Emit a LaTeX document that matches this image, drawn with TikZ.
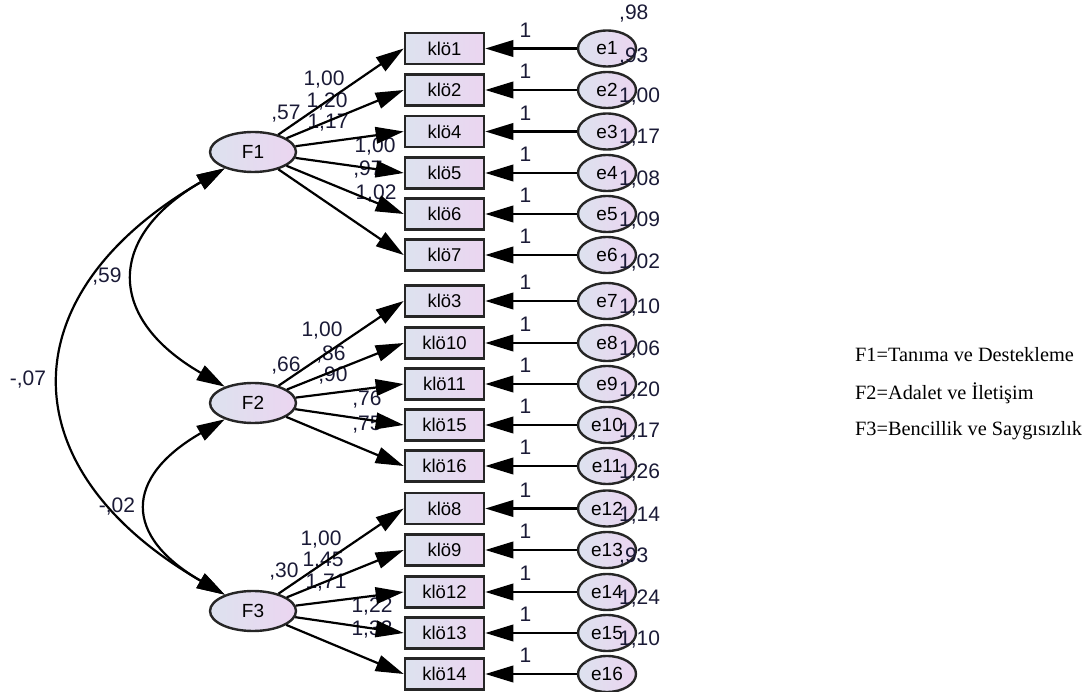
\documentclass[tikz,border=0pt]{standalone}
\usepackage{fontspec}
\setmainfont{Liberation Sans}
\newfontfamily\legendfont{Liberation Serif}
\usetikzlibrary{arrows.meta,shapes.geometric}
\definecolor{edge}{HTML}{262626}
\definecolor{fillL}{HTML}{DDE2EF}
\definecolor{fillR}{HTML}{EBD5F0}
\definecolor{num}{HTML}{1A1A36}
\tikzset{
  obs/.style={draw=edge,line width=2.6pt,left color=fillL,right color=fillR,minimum width=79pt,minimum height=31pt,inner sep=0pt,font=\fontsize{18.5}{20}\selectfont},
  lat/.style={ellipse,draw=edge,line width=2.4pt,left color=fillL,right color=fillR,minimum width=86pt,minimum height=40pt,inner sep=0pt,font=\fontsize{19}{20}\selectfont},
  err/.style={lat,minimum width=58pt,minimum height=36pt},
  val/.style={text=num,inner sep=0pt,font=\fontsize{21}{24}\selectfont},
  var/.style={val,anchor=west},
  one/.style={val,above=10pt},
  leg/.style={anchor=west,inner sep=0pt,font=\legendfont\fontsize{20.3}{24}\selectfont},
  ar/.style={-{Triangle[length=28pt,width=16.5pt]},line width=2.2pt},
  cov/.style={{Triangle[length=28pt,width=16.5pt]}-{Triangle[length=28pt,width=16.5pt]},line width=2.2pt},
}
\begin{document}
\begin{tikzpicture}[x=1pt,y=-1pt]
  \useasboundingbox (0,0) rectangle (1082,692);
  % factors
  \node[lat] (F1) at (253,152) {F1};
  \node[lat] (F2) at (253,403) {F2};
  \node[lat] (F3) at (253,611) {F3};
  % observed items
  \node[obs] (k1) at (444.5,48.5) {klö1};
  \node[obs] (k2) at (444.5,90) {klö2};
  \node[obs] (k4) at (444.5,131.5) {klö4};
  \node[obs] (k5) at (444.5,173) {klö5};
  \node[obs] (k6) at (444.5,214) {klö6};
  \node[obs] (k7) at (444.5,255) {klö7};
  \node[obs] (k3) at (444.5,301) {klö3};
  \node[obs] (k10) at (444.5,343) {klö10};
  \node[obs] (k11) at (444.5,384) {klö11};
  \node[obs] (k15) at (444.5,425) {klö15};
  \node[obs] (k16) at (444.5,466) {klö16};
  \node[obs] (k8) at (444.5,508.5) {klö8};
  \node[obs] (k9) at (444.5,550) {klö9};
  \node[obs] (k12) at (444.5,592) {klö12};
  \node[obs] (k13) at (444.5,633) {klö13};
  \node[obs] (k14) at (444.5,674) {klö14};
  % errors
  \node[err] (e1) at (607,48.5) {e1};
  \node[err] (e2) at (607,90) {e2};
  \node[err] (e3) at (607,131.5) {e3};
  \node[err] (e4) at (607,173) {e4};
  \node[err] (e5) at (607,214) {e5};
  \node[err] (e6) at (607,255) {e6};
  \node[err] (e7) at (607,301) {e7};
  \node[err] (e8) at (607,343) {e8};
  \node[err] (e9) at (607,384) {e9};
  \node[err] (e10) at (607,425) {e10};
  \node[err] (e11) at (607,466) {e11};
  \node[err] (e12) at (607,508.5) {e12};
  \node[err] (e13) at (607,550) {e13};
  \node[err] (e14) at (607,592) {e14};
  \node[err] (e15) at (607,633) {e15};
  \node[err] (e16) at (607,674) {e16};
  % error variances
  \node[var] (v0) at (619,14) {,98};
  \node[var] (v1) at (619,57) {,93};
  \node[var] (v2) at (619,97) {1,00};
  \node[var] (v3) at (619,138) {1,17};
  \node[var] (v4) at (619,180) {1,08};
  \node[var] (v5) at (619,221) {1,09};
  \node[var] (v6) at (619,263) {1,02};
  \node[var] (v7) at (619,308) {1,10};
  \node[var] (v8) at (619,350) {1,06};
  \node[var] (v9) at (619,391) {1,20};
  \node[var] (v10) at (619,432) {1,17};
  \node[var] (v11) at (619,473) {1,26};
  \node[var] (v12) at (619,516) {1,14};
  \node[var] (v13) at (619,557) {,93};
  \node[var] (v14) at (619,599) {1,24};
  \node[var] (v15) at (619,640) {1,10};
  % loadings and factor variances
  \node[val] (s1) at (286,114) {,57};
  \node[val] (a1) at (324,80) {1,00};
  \node[val] (a2) at (327,102) {1,20};
  \node[val] (a4) at (328,123) {1,17};
  \node[val] (a5) at (375,147) {1,00};
  \node[val] (a6) at (368,170) {,97};
  \node[val] (a7) at (376,194) {1,02};
  \node[val] (s2) at (286,366) {,66};
  \node[val] (a3) at (322,331) {1,00};
  \node[val] (a10) at (331,355) {,86};
  \node[val] (a11) at (333,376) {,90};
  \node[val] (a15) at (367,400) {,76};
  \node[val] (a16) at (367,425) {,75};
  \node[val] (s3) at (284,572) {,30};
  \node[val] (a8) at (321,540) {1,00};
  \node[val] (a9) at (323,561) {1,45};
  \node[val] (a12) at (326,583) {1,71};
  \node[val] (a13) at (372,607) {1,22};
  \node[val] (a14) at (372,630) {1,33};
  % covariances
  \draw[cov] (F1) to[out=210,in=150,distance=137pt] (F2);
  \draw[cov] (F1) to[out=210,in=150,distance=251pt] (F3);
  \draw[cov] (F2) to[out=210,in=150,distance=117pt] (F3);
  \node[val] (c12) at (107,277) {,59};
  \node[val] (c13) at (28,380) {-,07};
  \node[val] (c23) at (117,507) {-,02};
  % paths
  \draw[ar] (F1) -- (k1.west);
  \draw[ar] (F1) -- (k2.west);
  \draw[ar] (F1) -- (k4.west);
  \draw[ar] (F1) -- (k5.west);
  \draw[ar] (F1) -- (k6.west);
  \draw[ar] (F1) -- (k7.west);
  \draw[ar] (F2) -- (k3.west);
  \draw[ar] (F2) -- (k10.west);
  \draw[ar] (F2) -- (k11.west);
  \draw[ar] (F2) -- (k15.west);
  \draw[ar] (F2) -- (k16.west);
  \draw[ar] (F3) -- (k8.west);
  \draw[ar] (F3) -- (k9.west);
  \draw[ar] (F3) -- (k12.west);
  \draw[ar] (F3) -- (k13.west);
  \draw[ar] (F3) -- (k14.west);
  \draw[ar] (e1.west) -- node[one,pos=.56] (o1) {1} (k1.east);
  \draw[ar] (e2.west) -- node[one,pos=.56] (o2) {1} (k2.east);
  \draw[ar] (e3.west) -- node[one,pos=.56] (o3) {1} (k4.east);
  \draw[ar] (e4.west) -- node[one,pos=.56] (o4) {1} (k5.east);
  \draw[ar] (e5.west) -- node[one,pos=.56] (o5) {1} (k6.east);
  \draw[ar] (e6.west) -- node[one,pos=.56] (o6) {1} (k7.east);
  \draw[ar] (e7.west) -- node[one,pos=.56] (o7) {1} (k3.east);
  \draw[ar] (e8.west) -- node[one,pos=.56] (o8) {1} (k10.east);
  \draw[ar] (e9.west) -- node[one,pos=.56] (o9) {1} (k11.east);
  \draw[ar] (e10.west) -- node[one,pos=.56] (o10) {1} (k15.east);
  \draw[ar] (e11.west) -- node[one,pos=.56] (o11) {1} (k16.east);
  \draw[ar] (e12.west) -- node[one,pos=.56] (o12) {1} (k8.east);
  \draw[ar] (e13.west) -- node[one,pos=.56] (o13) {1} (k9.east);
  \draw[ar] (e14.west) -- node[one,pos=.56] (o14) {1} (k12.east);
  \draw[ar] (e15.west) -- node[one,pos=.56] (o15) {1} (k13.east);
  \draw[ar] (e16.west) -- node[one,pos=.56] (o16) {1} (k14.east);
  % legend
  \node[leg] (t1) at (855,355) {F1=Tanıma ve Destekleme};
  \node[leg] (t2) at (855,393) {F2=Adalet ve İletişim};
  \node[leg] (t3) at (855,431) {F3=Bencillik ve Saygısızlık};
\end{tikzpicture}
\end{document}
